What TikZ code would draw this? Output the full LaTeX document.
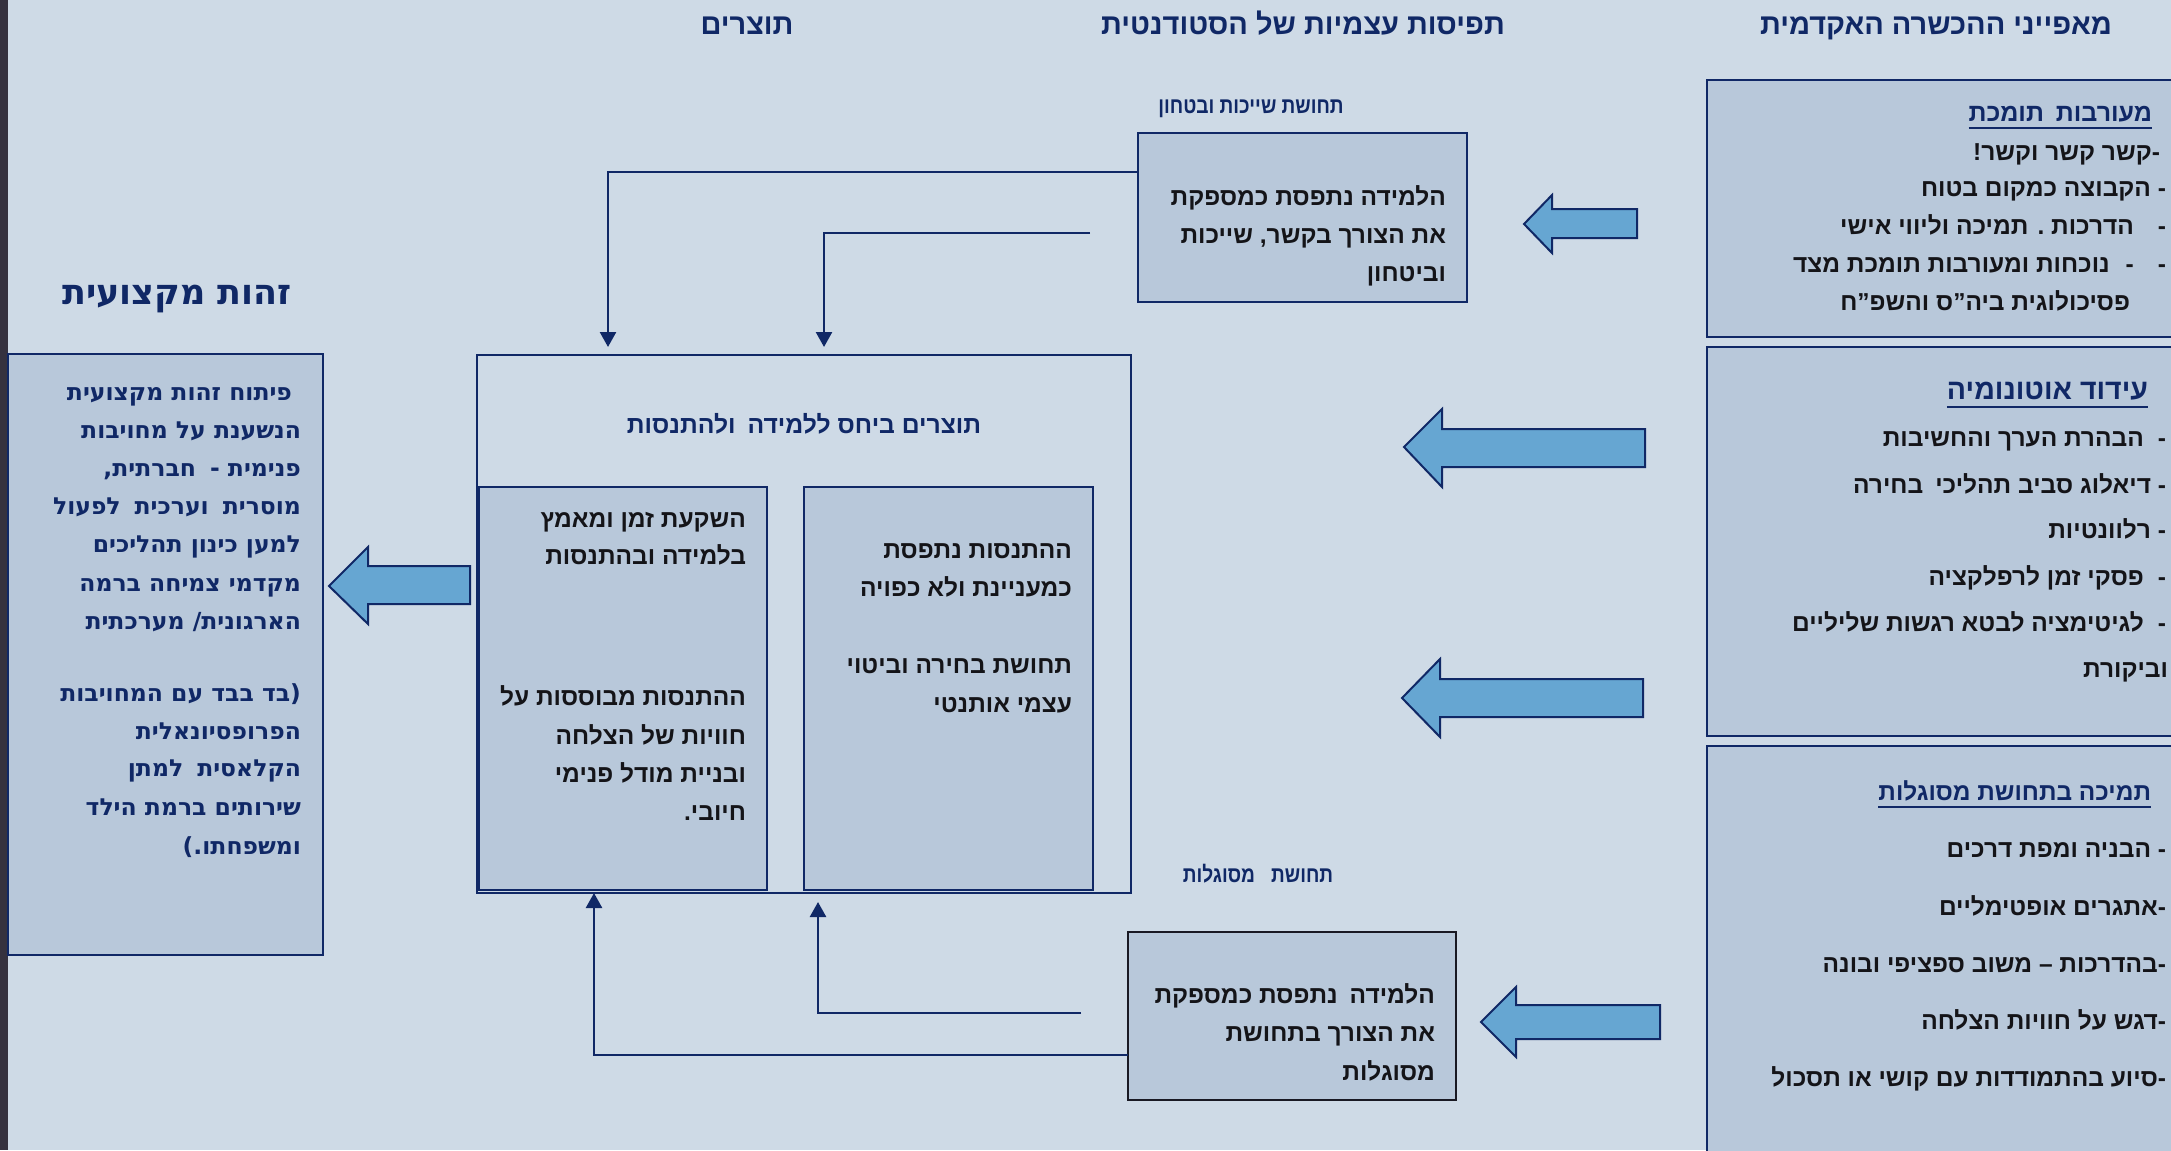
\documentclass[tikz,border=0pt]{standalone}
\usepackage{fontspec}
\setmainfont{Liberation Sans}
\newfontfamily\hebA[Script=Hebrew]{Liberation Sans}
\newfontfamily\hebN[Script=Hebrew,FakeStretch=0.85]{Liberation Sans}
\newfontfamily\hebD[Script=Hebrew]{DejaVu Sans}
\TeXXeTstate=1
\usetikzlibrary{arrows.meta,calc}
\newcommand\hl[1]{\beginR #1\endR}
\definecolor{bgc}{RGB}{206,218,230}
\definecolor{boxc}{RGB}{184,200,218}
\definecolor{navy}{RGB}{16,40,102}
\definecolor{ink}{RGB}{20,20,24}
\definecolor{arrowc}{RGB}{102,166,210}
\definecolor{stripc}{RGB}{53,50,63}
\definecolor{darkb}{RGB}{25,25,35}
\tikzset{
  base/.style={inner sep=0pt, outer sep=0pt},
  boxn/.style={base, draw=navy, line width=2bp, fill=boxc},
  obox/.style={base, draw=navy, line width=2bp},
  txt/.style={base, anchor=east, text=ink, text height=20bp, text depth=3bp,
    font=\hebA\bfseries\fontsize{24.5bp}{27bp}\selectfont},
  ttl/.style={txt, text=navy, text height=20bp, text depth=4bp,
    font=\hebA\bfseries\fontsize{25bp}{28bp}\selectfont},
  ttlc/.style={ttl, font=\hebA\bfseries\fontsize{24.4bp}{28bp}\selectfont},
  ttlb/.style={txt, text=navy, text height=23bp, text depth=4bp,
    font=\hebA\bfseries\fontsize{28.5bp}{31bp}\selectfont},
  hdr/.style={base, anchor=center, text=navy, text height=23bp, text depth=4bp,
    font=\hebA\bfseries\fontsize{29bp}{32bp}\selectfont},
  hdrw/.style={base, anchor=center, text=navy, text height=27bp, text depth=5bp,
    font=\hebD\bfseries\fontsize{35bp}{38bp}\selectfont},
  lbl/.style={base, anchor=center, text=navy, text height=18bp, text depth=3bp,
    font=\hebN\bfseries\fontsize{22.5bp}{25bp}\selectfont},
  ctr/.style={txt, text=navy, anchor=center, text height=20bp,
    font=\hebA\bfseries\fontsize{24.7bp}{27bp}\selectfont},
  wtxt/.style={txt, text=navy, text height=19bp,
    font=\hebD\bfseries\fontsize{23.5bp}{27bp}\selectfont},
  uline/.style={draw=navy, line width=2bp},
  barrow/.style={draw=navy, line width=2bp, fill=arrowc, line join=miter},
  conn/.style={draw=navy, line width=2.5bp, -{Triangle[width=16bp,length=15bp]}},
}
\begin{document}
\begin{tikzpicture}[x=1bp,y=-1bp]
\useasboundingbox (0,0) rectangle (2171,1150);
\clip (0,0) rectangle (2171,1150);
\fill[bgc] (0,0) rectangle (2171,1150);
\fill[stripc] (0,0) rectangle (8,1150);

% headers
\node[hdr] (h1) at (1936,25) {\hl{מאפייני ההכשרה האקדמית}};
\node[hdr] (h2) at (1303,25) {\hl{תפיסות עצמיות של הסטודנטית}};
\node[hdr] (h3) at (747,25) {\hl{תוצרים}};
\node[hdrw] (h4) at (177,293) {\hl{זהות מקצועית}};

% right column boxes
\node[boxn, minimum width=493bp, minimum height=257bp] (R1) at (1953.5,208.5) {};
\node[boxn, minimum width=493bp, minimum height=389bp] (R2) at (1953.5,541.5) {};
\node[boxn, minimum width=493bp, minimum height=434bp] (R3) at (1953.5,963) {};

\node[ttl] (b1t) at (2152,113) {\hl{מעורבות\hspace{12bp}תומכת}};
\draw[uline] ([yshift=-3bp]b1t.south west) -- ([yshift=-3bp]b1t.south east);
\node[txt] (b1a) at (2160,152) {\hl{-קשר קשר וקשר!}};
\node[txt] (b1b) at (2166,188) {\hl{- הקבוצה כמקום בטוח}};
\node[txt] (b1c) at (2166,226) {\hl{-\hspace{24bp}הדרכות . תמיכה וליווי אישי}};
\node[txt] (b1d) at (2166,264) {\hl{-\hspace{24bp}-\hspace{16bp}נוכחות ומעורבות תומכת מצד}};
\node[txt] (b1e) at (2130,302) {\hl{פסיכולוגית ביה”ס והשפ”ח}};

\node[ttlb] (b2t) at (2148,390) {\hl{עידוד אוטונומיה}};
\draw[uline] ([yshift=-3bp]b2t.south west) -- ([yshift=-3bp]b2t.south east);
\node[txt] (b2a) at (2166,438) {\hl{-\hspace{14bp}הבהרת הערך והחשיבות}};
\node[txt] (b2b) at (2166,485) {\hl{- דיאלוג סביב תהליכי\hspace{12bp}בחירה}};
\node[txt] (b2c) at (2166,530) {\hl{- רלוונטיות}};
\node[txt] (b2d) at (2166,577) {\hl{-\hspace{14bp}פסקי זמן לרפלקציה}};
\node[txt] (b2e) at (2166,623) {\hl{-\hspace{14bp}לגיטימציה לבטא רגשות שליליים}};
\node[txt] (b2f) at (2168,669) {\hl{וביקורת}};

\node[ttlc] (b3t) at (2151,792) {\hl{תמיכה בתחושת מסוגלות}};
\draw[uline] ([yshift=-3bp]b3t.south west) -- ([yshift=-3bp]b3t.south east);
\node[txt] (b3a) at (2166,849) {\hl{- הבניה ומפת דרכים}};
\node[txt] (b3b) at (2166,907) {\hl{-אתגרים אופטימליים}};
\node[txt] (b3c) at (2166,964) {\hl{-בהדרכות – משוב ספציפי ובונה}};
\node[txt] (b3d) at (2166,1021) {\hl{-דגש על חוויות הצלחה}};
\node[txt] (b3e) at (2166,1078) {\hl{-סיוע בהתמודדות עם קושי או תסכול}};

% middle column
\node[lbl] (lt) at (1251,106) {\hl{תחושת שייכות ובטחון}};
\node[boxn, minimum width=329bp, minimum height=169bp] (T) at (1302.5,217.5) {};
\node[txt] (t1) at (1446,197) {\hl{הלמידה נתפסת כמספקת}};
\node[txt] (t2) at (1446,235) {\hl{את הצורך בקשר, שייכות}};
\node[txt] (t3) at (1446,273) {\hl{וביטחון}};

\node[lbl] (lb) at (1258,875) {\hl{תחושת\hspace{16bp}מסוגלות}};
\node[boxn, draw=darkb, minimum width=328bp, minimum height=168bp] (B) at (1292,1016) {};
\node[txt] (s1) at (1435,995) {\hl{הלמידה\hspace{12bp}נתפסת כמספקת}};
\node[txt] (s2) at (1435,1033) {\hl{את הצורך בתחושת}};
\node[txt] (s3) at (1435,1072) {\hl{מסוגלות}};

% outputs
\node[obox, minimum width=654bp, minimum height=538bp] (O) at (804,624) {};
\node[ctr] (ct) at (804,425) {\hl{תוצרים ביחס ללמידה\hspace{12bp}ולהתנסות}};
\node[boxn, minimum width=288bp, minimum height=403bp] (Lin) at (623,688.5) {};
\node[boxn, minimum width=289bp, minimum height=403bp] (Rin) at (948.5,688.5) {};
\node[txt] (l1) at (746,519) {\hl{השקעת זמן ומאמץ}};
\node[txt] (l2) at (746,556) {\hl{בלמידה ובהתנסות}};
\node[txt] (l3) at (746,697) {\hl{ההתנסות מבוססות על}};
\node[txt] (l4) at (746,736) {\hl{חוויות של הצלחה}};
\node[txt] (l5) at (746,774) {\hl{ובניית מודל פנימי}};
\node[txt] (l6) at (746,812) {\hl{חיובי.}};
\node[txt] (r1) at (1072,550) {\hl{ההתנסות נתפסת}};
\node[txt] (r2) at (1072,588) {\hl{כמעניינת ולא כפויה}};
\node[txt] (r3) at (1072,665) {\hl{תחושת בחירה וביטוי}};
\node[txt] (r4) at (1072,704) {\hl{עצמי אותנטי}};

% professional identity
\node[boxn, minimum width=315bp, minimum height=601bp] (LB) at (165.5,654.5) {};
\node[wtxt] (p1) at (292,392) {\hl{פיתוח זהות מקצועית}};
\node[wtxt] (p2) at (301,430) {\hl{הנשענת על מחויבות}};
\node[wtxt] (p3) at (301,468) {\hl{פנימית -\hspace{14bp}חברתית,}};
\node[wtxt] (p4) at (301,506) {\hl{מוסרית\hspace{14bp}וערכית\hspace{14bp}לפעול}};
\node[wtxt] (p5) at (301,544) {\hl{למען כינון תהליכים}};
\node[wtxt] (p6) at (301,583) {\hl{מקדמי צמיחה ברמה}};
\node[wtxt] (p7) at (301,621) {\hl{הארגונית/ מערכתית}};
\node[wtxt] (p8) at (301,693) {\hl{(בד בבד עם המחויבות}};
\node[wtxt] (p9) at (301,731) {\hl{הפרופסיונאלית}};
\node[wtxt] (p10) at (301,768) {\hl{הקלאסית\hspace{14bp}למתן}};
\node[wtxt] (p11) at (301,807) {\hl{שירותים ברמת הילד}};
\node[wtxt] (p12) at (301,846) {\hl{ומשפחתו.)}};

% block arrows
\draw[barrow] (1524,224) -- (1552,195) -- (1552,209) -- (1637,209) -- (1637,238) -- (1552,238) -- (1552,253) -- cycle;
\draw[barrow] (1404,447) -- (1442,409) -- (1442,429) -- (1645,429) -- (1645,467) -- (1442,467) -- (1442,487) -- cycle;
\draw[barrow] (1402,698) -- (1440,659) -- (1440,679) -- (1643,679) -- (1643,717) -- (1440,717) -- (1440,737) -- cycle;
\draw[barrow] (1481,1022) -- (1516,987) -- (1516,1005) -- (1660,1005) -- (1660,1039) -- (1516,1039) -- (1516,1057) -- cycle;
\draw[barrow] (329,586) -- (368,547) -- (368,566) -- (470,566) -- (470,604) -- (368,604) -- (368,624) -- cycle;

% connectors
\coordinate (c2) at (1090,233);
\coordinate (c4) at (1081,1013);
\draw[conn] (T.west |- 0,172) -| ([yshift=8bp]O.north -| 608,0);
\draw[conn] (c2) -| ([yshift=8bp]O.north -| 824,0);
\draw[conn] (B.west |- 0,1055) -| (O.south -| 594,0);
\draw[conn] (c4) -| ([yshift=-9bp]O.south -| 818,0);
\end{tikzpicture}
\end{document}
